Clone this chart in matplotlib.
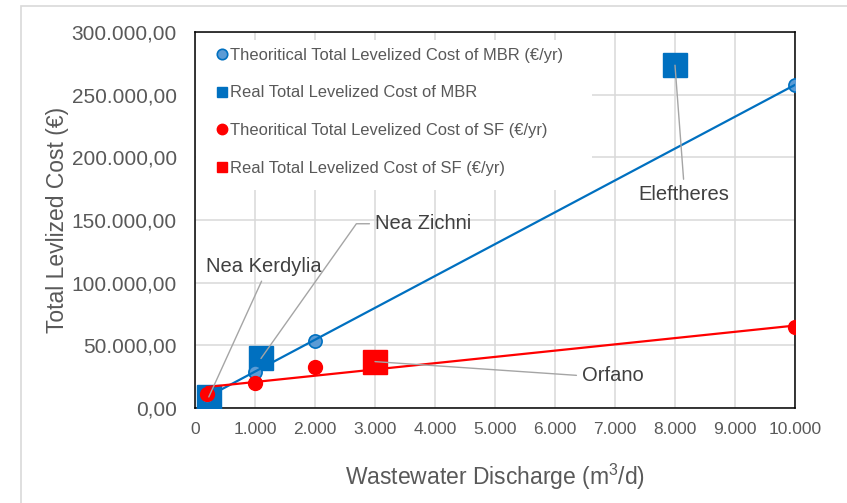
import numpy as np
import matplotlib
matplotlib.use("Agg")
import matplotlib.pyplot as plt
from matplotlib.patches import Rectangle

plt.rcParams['font.family'] = ['Liberation Sans', 'DejaVu Sans']
plt.rcParams['mathtext.fontset'] = 'custom'
plt.rcParams['mathtext.rm'] = 'Liberation Sans'

# data
theo_x = [200, 1000, 2000, 10000]
theo_mbr = [9500, 29000, 53500, 258000]
theo_sf = [11500, 20000, 33000, 64500]

real_mbr_x = [230, 1100, 8000]
real_mbr = [8800, 39500, 273500]
real_sf_x = [3000]
real_sf = [37000]

plants = ['Nea Kerdylia', 'Nea Zichni', 'Eleftheres', 'Orfano']
plant_x = [230, 1100, 8000, 3000]
plant_y = [8800, 39500, 273500, 37000]
label_x = [1150, 3000, 8150, 6450]
label_y = [113000, 147000, 170500, 26000]

xticks = list(range(0, 10001, 1000))
yticks = list(range(0, 300001, 50000))

blue = '#0070C0'
blue_light = '#5B9BD5'
red = '#FF0000'
txt = '#595959'


def eu(v, dec):
    s = f"{v:,.{dec}f}"
    return s.replace(',', 'X').replace('.', ',').replace('X', '.')


fig = plt.figure(figsize=(8.47, 5.03), dpi=100)
fig.patches.append(Rectangle((0.025, -0.1), 1.2, 1.088, transform=fig.transFigure,
                             fill=False, edgecolor='#d9d9d9', linewidth=1.2))
ax = fig.add_axes([0.2302, 0.1889, 0.7084, 0.7475])

ax.set_xlim(0, 10000)
ax.set_ylim(0, 300000)
ax.set_xticks(xticks)
ax.set_yticks(yticks)
ax.set_xticklabels([eu(v, 0) for v in xticks], fontsize=12.5, color=txt)
ax.set_yticklabels([eu(v, 2) for v in yticks], fontsize=15, color=txt)
ax.tick_params(axis='both', length=0)
ax.tick_params(axis='y', pad=13)
ax.tick_params(axis='x', pad=10)
ax.grid(True, color='#d9d9d9', linewidth=1.1, zorder=0)
ax.set_axisbelow(True)
for s in ax.spines.values():
    s.set_color('black')
    s.set_linewidth(1.1)

# white legend background covering the grid
ax.add_patch(Rectangle((0.002, 0.58), 0.66, 0.40, transform=ax.transAxes,
                       facecolor='white', edgecolor='none', zorder=1))

# trendlines
xs = np.array([min(theo_x), max(theo_x)])
p1 = np.polyfit(theo_x, theo_mbr, 1)
p2 = np.polyfit(theo_x, theo_sf, 1)

ax.plot(theo_x, theo_mbr, 'o', color=blue_light, mec=blue, mew=1.2, ms=9.5, zorder=4,
        label='Theoritical Total Levelized Cost of MBR (€/yr)')
ax.plot(real_mbr_x, real_mbr, 's', color=blue, ms=17, zorder=3,
        label='Real Total Levelized Cost of MBR')
ax.plot(theo_x, theo_sf, 'o', color=red, ms=10, zorder=5,
        label='Theoritical Total Levelized Cost of SF (€/yr)')
ax.plot(real_sf_x, real_sf, 's', color=red, ms=17, zorder=3,
        label='Real Total Levelized Cost of SF (€/yr)')
ax.plot(xs, np.polyval(p1, xs), color=blue, lw=1.6, zorder=4)
ax.plot(xs, np.polyval(p2, xs), color=red, lw=1.6, zorder=6)

leg = ax.legend(loc='upper left', bbox_to_anchor=(0.025, 0.976), frameon=False,
                fontsize=11.9, labelspacing=1.38, handlelength=0.6, handletextpad=0.2,
                borderaxespad=0)
for t in leg.get_texts():
    t.set_color(txt)
for h in leg.legend_handles:
    h.set_markersize(7.5)
leg.set_zorder(7)

# leader labels
conn = [None, 'angle,angleA=0,angleB=54.7,rad=0', None, 'angle,angleA=0,angleB=-3.9,rad=0']
rel = [(0.5, 0.0), (0.0, 0.5), (0.5, 1.0), (0.0, 0.5)]
has = ['center', 'left', 'center', 'left']
for name, px, py, lx, ly, c, r, h in zip(plants, plant_x, plant_y, label_x, label_y, conn, rel, has):
    ap = dict(arrowstyle='-', color='#a5a5a5', lw=1.0, relpos=r, shrinkA=2, shrinkB=0)
    if c:
        ap['connectionstyle'] = c
    ax.annotate(name, xy=(px, py), xytext=(lx, ly), ha=h, va='center',
                fontsize=14.5, color='#404040', arrowprops=ap, zorder=8)

ax.set_xlabel('Wastewater Discharge (m$^3$/d)', fontsize=16.5, color=txt, labelpad=18)
ax.set_ylabel('Total Levlized Cost (€)', fontsize=16.5, color=txt, labelpad=2)

fig.savefig('out.png', dpi=100)
